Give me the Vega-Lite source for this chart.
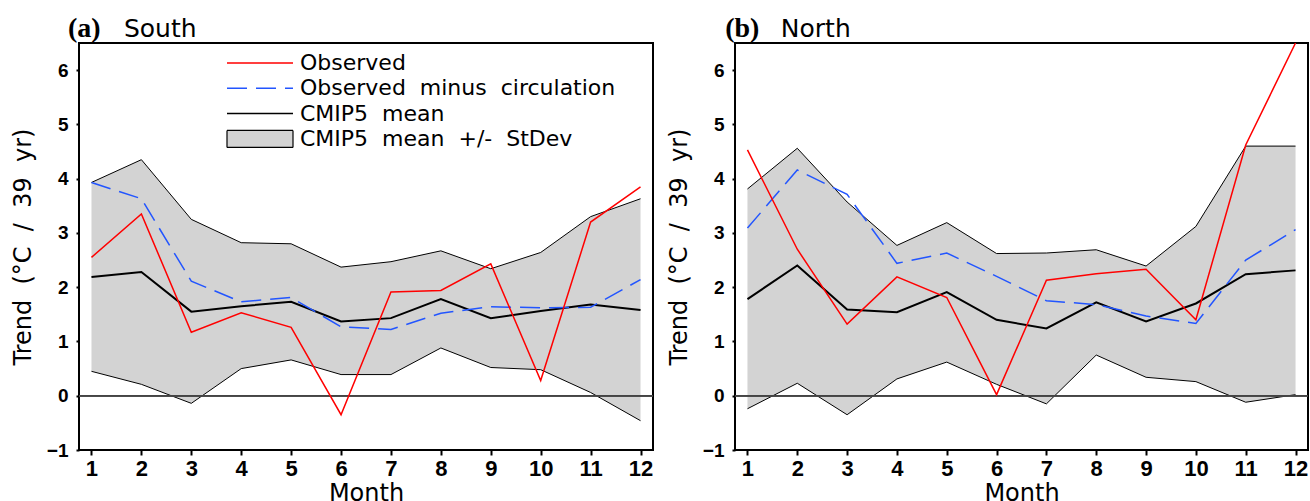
{
  "$schema": "https://vega.github.io/schema/vega-lite/v6.json",
  "background": "white",
  "padding": {"left": 10, "top": 14, "right": 0, "bottom": 0},
  "spacing": 11,
  "datasets": {
    "trend": [
      {"panel": "South", "month": 1, "lo": 0.45, "hi": 3.93, "mean": 2.19, "observed": 2.55, "omc": 3.93},
      {"panel": "South", "month": 2, "lo": 0.21, "hi": 4.35, "mean": 2.28, "observed": 3.35, "omc": 3.63},
      {"panel": "South", "month": 3, "lo": -0.14, "hi": 3.25, "mean": 1.55, "observed": 1.17, "omc": 2.11},
      {"panel": "South", "month": 4, "lo": 0.50, "hi": 2.82, "mean": 1.65, "observed": 1.53, "omc": 1.73},
      {"panel": "South", "month": 5, "lo": 0.66, "hi": 2.80, "mean": 1.73, "observed": 1.26, "omc": 1.81},
      {"panel": "South", "month": 6, "lo": 0.39, "hi": 2.37, "mean": 1.37, "observed": -0.35, "omc": 1.27},
      {"panel": "South", "month": 7, "lo": 0.39, "hi": 2.47, "mean": 1.43, "observed": 1.91, "omc": 1.22},
      {"panel": "South", "month": 8, "lo": 0.88, "hi": 2.67, "mean": 1.78, "observed": 1.94, "omc": 1.52},
      {"panel": "South", "month": 9, "lo": 0.52, "hi": 2.34, "mean": 1.43, "observed": 2.43, "omc": 1.64},
      {"panel": "South", "month": 10, "lo": 0.48, "hi": 2.64, "mean": 1.56, "observed": 0.28, "omc": 1.62},
      {"panel": "South", "month": 11, "lo": 0.06, "hi": 3.30, "mean": 1.68, "observed": 3.20, "omc": 1.63},
      {"panel": "South", "month": 12, "lo": -0.46, "hi": 3.63, "mean": 1.58, "observed": 3.85, "omc": 2.14},
      {"panel": "North", "month": 1, "lo": -0.24, "hi": 3.81, "mean": 1.78, "observed": 4.53, "omc": 3.09},
      {"panel": "North", "month": 2, "lo": 0.23, "hi": 4.56, "mean": 2.40, "observed": 2.70, "omc": 4.16},
      {"panel": "North", "month": 3, "lo": -0.35, "hi": 3.57, "mean": 1.59, "observed": 1.32, "omc": 3.71},
      {"panel": "North", "month": 4, "lo": 0.31, "hi": 2.77, "mean": 1.54, "observed": 2.19, "omc": 2.44},
      {"panel": "North", "month": 5, "lo": 0.62, "hi": 3.19, "mean": 1.91, "observed": 1.81, "omc": 2.63},
      {"panel": "North", "month": 6, "lo": 0.21, "hi": 2.62, "mean": 1.40, "observed": 0.02, "omc": 2.20},
      {"panel": "North", "month": 7, "lo": -0.15, "hi": 2.63, "mean": 1.24, "observed": 2.13, "omc": 1.75},
      {"panel": "North", "month": 8, "lo": 0.75, "hi": 2.69, "mean": 1.72, "observed": 2.25, "omc": 1.68},
      {"panel": "North", "month": 9, "lo": 0.34, "hi": 2.39, "mean": 1.37, "observed": 2.33, "omc": 1.47},
      {"panel": "North", "month": 10, "lo": 0.26, "hi": 3.12, "mean": 1.70, "observed": 1.40, "omc": 1.33},
      {"panel": "North", "month": 11, "lo": -0.12, "hi": 4.60, "mean": 2.24, "observed": 4.62, "omc": 2.50},
      {"panel": "North", "month": 12, "lo": 0.02, "hi": 4.60, "mean": 2.31, "observed": 6.50, "omc": 3.06}
    ]
  },
  "resolve": {"scale": {"color": "independent"}, "legend": {"color": "independent"}},
  "hconcat": [
    {
      "width": 574,
      "height": 407,
      "data": {"name": "trend"},
      "transform": [{"filter": "datum.panel === 'South'"}],
      "layer": [
        {
          "mark": {"type": "area", "color": "#d3d3d3"},
          "encoding": {
            "x": {"field": "month", "type": "quantitative", "scale": {"domain": [0.75, 12.25], "nice": false, "zero": false}, "axis": {"values": [1,2,3,4,5,6,7,8,9,10,11,12], "title": "Month"}},
            "y": {"field": "lo", "type": "quantitative", "scale": {"domain": [-1, 6.5], "nice": false, "zero": false}, "axis": {"values": [-1,0,1,2,3,4,5,6], "format": "d", "title": "Trend\u00a0 (°C\u00a0 /\u00a0 39\u00a0 yr)"}},
            "y2": {"field": "hi"}
          }
        },
        {
          "mark": {"type": "line", "color": "black", "strokeWidth": 1},
          "encoding": {"x": {"field": "month", "type": "quantitative"}, "y": {"field": "hi", "type": "quantitative"}}
        },
        {
          "mark": {"type": "line", "color": "black", "strokeWidth": 1},
          "encoding": {"x": {"field": "month", "type": "quantitative"}, "y": {"field": "lo", "type": "quantitative"}}
        },
        {
          "mark": {"type": "rule", "color": "#444444", "strokeWidth": 1},
          "encoding": {"y": {"datum": 0}}
        },
        {
          "mark": {"type": "line", "strokeWidth": 2},
          "encoding": {
            "x": {"field": "month", "type": "quantitative"},
            "y": {"field": "mean", "type": "quantitative"},
            "color": {
              "datum": "CMIP5 mean",
              "scale": {"domain": ["Observed", "Observed minus circulation", "CMIP5 mean", "CMIP5 mean +/- StDev"], "range": ["#ff0000", "#2255ff", "#000000", "#000000"]},
              "legend": {
                "title": null,
                "orient": "none",
                "legendX": 147,
                "legendY": 9,
                "symbolType": "M-3.3,0H3.3",
                "symbolSize": 400,
                "symbolOffset": 23,
                "symbolStrokeWidth": 1.5,
                "labelOffset": 29,
                "rowPadding": 3.3,
                "labelFont": "DejaVu Sans",
                "labelFontSize": 22,
                "labelColor": "black",
                "labelLimit": 500,
                "labelExpr": "replace(datum.label, regexp(' ', 'g'), '\u00a0 ')",
                "encode": {
                  "symbols": {
                    "update": {
                      "shape": {"signal": "datum.value === 'CMIP5 mean +/- StDev' ? 'M-3.3,-0.85H3.3V0.85H-3.3Z' : 'M-3.3,0H3.3'"},
                      "fill": {"signal": "datum.value === 'CMIP5 mean +/- StDev' ? '#d3d3d3' : 'transparent'"},
                      "stroke": {"signal": "datum.value === 'Observed' ? '#ff0000' : datum.value === 'Observed minus circulation' ? '#2255ff' : '#000000'"},
                      "strokeDash": {"signal": "datum.value === 'Observed minus circulation' ? [20, 9] : [1, 0]"},
                      "strokeWidth": {"signal": "datum.value === 'CMIP5 mean +/- StDev' ? 1.2 : 1.5"},
                      "strokeOpacity": {"value": 1},
                      "opacity": {"value": 1}
                    }
                  }
                }
              }
            }
          }
        },
        {
          "mark": {"type": "line", "strokeWidth": 1.5, "strokeDash": [20, 9]},
          "encoding": {
            "x": {"field": "month", "type": "quantitative"},
            "y": {"field": "omc", "type": "quantitative"},
            "color": {"datum": "Observed minus circulation", "scale": {"domain": ["Observed", "Observed minus circulation", "CMIP5 mean", "CMIP5 mean +/- StDev"], "range": ["#ff0000", "#2255ff", "#000000", "#000000"]}}
          }
        },
        {
          "mark": {"type": "line", "strokeWidth": 1.5, "clip": true},
          "encoding": {
            "x": {"field": "month", "type": "quantitative"},
            "y": {"field": "observed", "type": "quantitative"},
            "color": {"datum": "Observed", "scale": {"domain": ["Observed", "Observed minus circulation", "CMIP5 mean", "CMIP5 mean +/- StDev"], "range": ["#ff0000", "#2255ff", "#000000", "#000000"]}}
          }
        },
        {
          "data": {"values": [{"label": "(a)"}]},
          "mark": {"type": "text", "align": "left", "baseline": "alphabetic", "dy": -6, "font": "Liberation Serif", "fontWeight": "bold", "fontSize": 28, "color": "black"},
          "encoding": {"text": {"field": "label"}, "x": {"datum": 0.53}, "y": {"datum": 6.5}}
        },
        {
          "data": {"values": [{"label": "South"}]},
          "mark": {"type": "text", "align": "left", "baseline": "alphabetic", "dy": -6, "font": "DejaVu Sans", "fontSize": 25, "color": "black"},
          "encoding": {"text": {"field": "label"}, "x": {"datum": 1.65}, "y": {"datum": 6.5}}
        }
      ]
    },
    {
      "width": 573,
      "height": 407,
      "data": {"name": "trend"},
      "transform": [{"filter": "datum.panel === 'North'"}],
      "layer": [
        {
          "mark": {"type": "area", "color": "#d3d3d3"},
          "encoding": {
            "x": {"field": "month", "type": "quantitative", "scale": {"domain": [0.75, 12.25], "nice": false, "zero": false}, "axis": {"values": [1,2,3,4,5,6,7,8,9,10,11,12], "title": "Month"}},
            "y": {"field": "lo", "type": "quantitative", "scale": {"domain": [-1, 6.5], "nice": false, "zero": false}, "axis": {"values": [-1,0,1,2,3,4,5,6], "format": "d", "title": "Trend\u00a0 (°C\u00a0 /\u00a0 39\u00a0 yr)"}},
            "y2": {"field": "hi"}
          }
        },
        {
          "mark": {"type": "line", "color": "black", "strokeWidth": 1},
          "encoding": {"x": {"field": "month", "type": "quantitative"}, "y": {"field": "hi", "type": "quantitative"}}
        },
        {
          "mark": {"type": "line", "color": "black", "strokeWidth": 1},
          "encoding": {"x": {"field": "month", "type": "quantitative"}, "y": {"field": "lo", "type": "quantitative"}}
        },
        {
          "mark": {"type": "rule", "color": "#444444", "strokeWidth": 1},
          "encoding": {"y": {"datum": 0}}
        },
        {
          "mark": {"type": "line", "color": "#000000", "strokeWidth": 2},
          "encoding": {"x": {"field": "month", "type": "quantitative"}, "y": {"field": "mean", "type": "quantitative"}}
        },
        {
          "mark": {"type": "line", "color": "#2255ff", "strokeWidth": 1.5, "strokeDash": [20, 9]},
          "encoding": {"x": {"field": "month", "type": "quantitative"}, "y": {"field": "omc", "type": "quantitative"}}
        },
        {
          "mark": {"type": "line", "color": "#ff0000", "strokeWidth": 1.5, "clip": true},
          "encoding": {"x": {"field": "month", "type": "quantitative"}, "y": {"field": "observed", "type": "quantitative"}}
        },
        {
          "data": {"values": [{"label": "(b)"}]},
          "mark": {"type": "text", "align": "left", "baseline": "alphabetic", "dy": -6, "font": "Liberation Serif", "fontWeight": "bold", "fontSize": 28, "color": "black"},
          "encoding": {"text": {"field": "label"}, "x": {"datum": 0.552}, "y": {"datum": 6.5}}
        },
        {
          "data": {"values": [{"label": "North"}]},
          "mark": {"type": "text", "align": "left", "baseline": "alphabetic", "dy": -6, "font": "DejaVu Sans", "fontSize": 25, "color": "black"},
          "encoding": {"text": {"field": "label"}, "x": {"datum": 1.67}, "y": {"datum": 6.5}}
        }
      ]
    }
  ],
  "config": {
    "view": {"stroke": "black", "strokeWidth": 2},
    "axis": {
      "grid": false,
      "domain": false,
      "tickColor": "black",
      "tickWidth": 2,
      "labelColor": "black",
      "titleColor": "black",
      "labelFont": "Liberation Sans Narrow, Liberation Sans",
      "labelFontWeight": "bold",
      "titleFont": "DejaVu Sans",
      "titleFontWeight": "normal",
      "titleFontSize": 24
    },
    "axisX": {"tickSize": 5, "labelFontSize": 22, "labelPadding": 3, "titlePadding": 2, "labelFlush": false},
    "axisY": {"tickSize": 3, "labelFontSize": 19, "labelPadding": 8, "titlePadding": 11, "labelFlush": false}
  }
}
